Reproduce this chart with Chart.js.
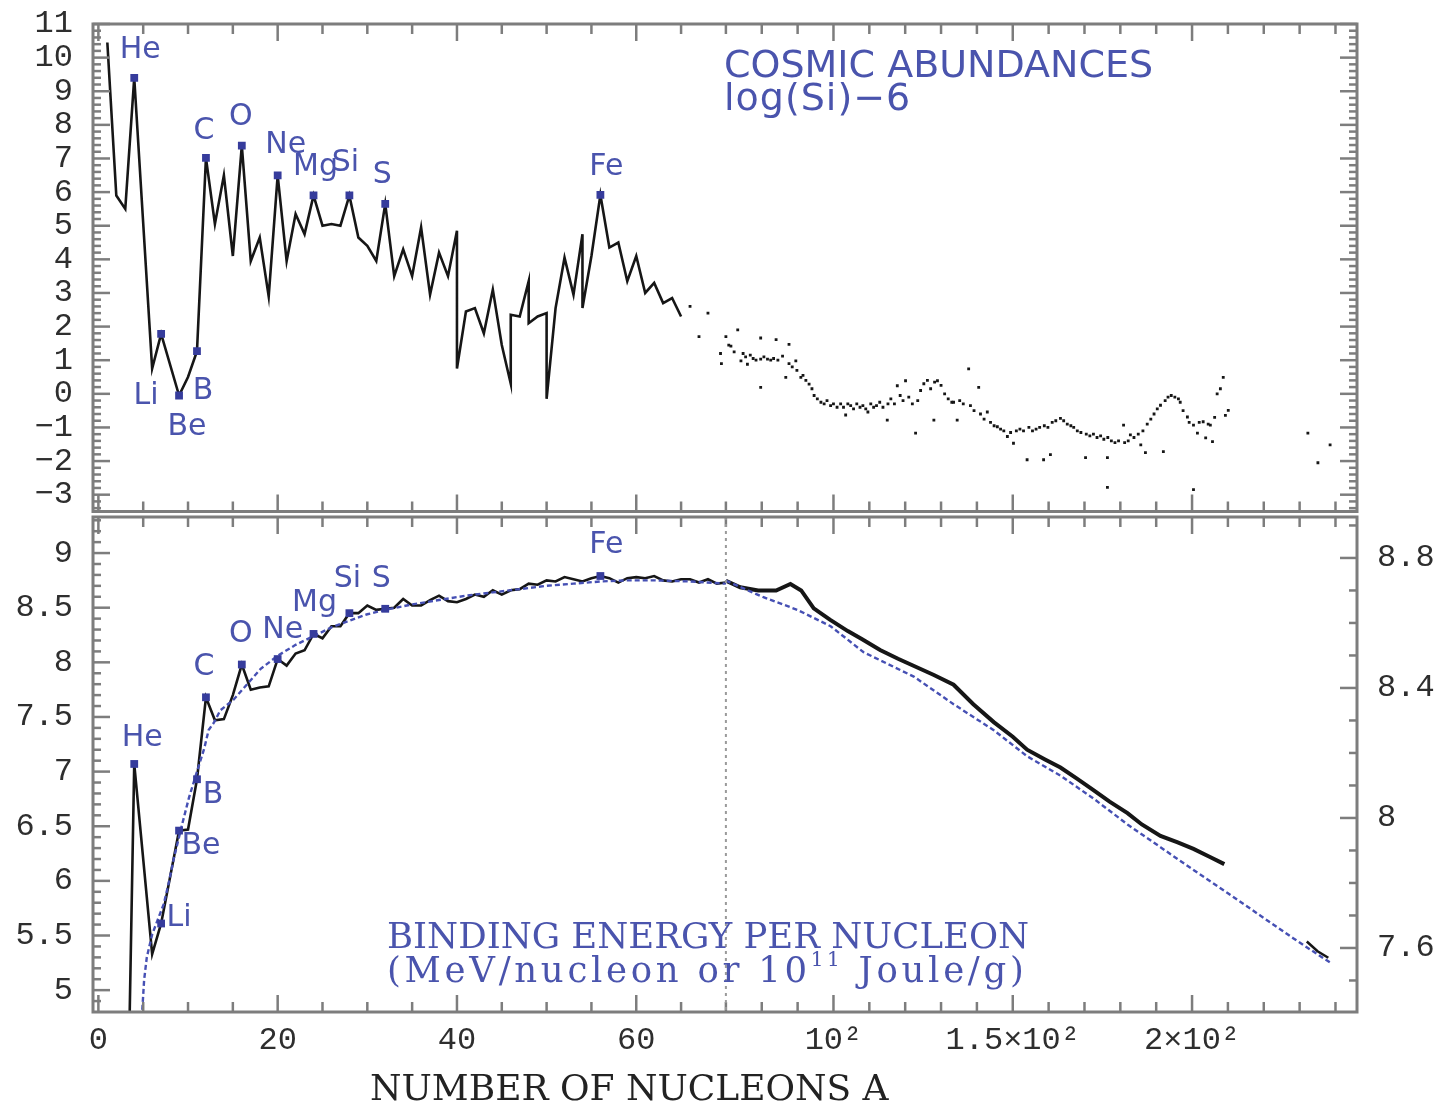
<!DOCTYPE html>
<html>
<head>
<meta charset="utf-8">
<title>Cosmic abundances and binding energy per nucleon</title>
<script src="https://cdn.jsdelivr.net/npm/chart.js@4.4.1/dist/chart.umd.min.js"></script>
<style>
  html, body { margin: 0; padding: 0; background: #fff; }
  #wrap { position: relative; width: 1440px; height: 1106px; overflow: hidden; }
  #abundCanvas { position: absolute; left: 0; top: 0; }
  #bindCanvas { position: absolute; left: 0; top: 500px; }
</style>
</head>
<body>
<div id="wrap">
  <canvas id="abundCanvas" width="1440" height="517"></canvas>
  <canvas id="bindCanvas" width="1440" height="606"></canvas>
</div>
<script>
// ---- abundances (log, Si = 10^6), connected part by mass number ----
const abundA = [1, 2, 3, 4, 6, 7, 9, 10, 11, 12, 13, 14, 15, 16, 17, 18, 19, 20, 21, 22,
  23, 24, 25, 26, 27, 28, 29, 30, 31, 32, 33, 34, 35, 36, 37, 38, 39, 40, 40, 41,
  42, 43, 44, 45, 46, 46, 47, 48, 48, 49, 50, 50, 51, 52, 53, 54, 54, 55, 56, 57,
  58, 59, 60, 61, 62, 63, 64, 65];
const abundLog = [10.45, 5.9, 5.5, 9.4, 0.75, 1.78, -0.05, 0.5, 1.27, 7.02, 5.05, 6.5, 4.1, 7.38, 3.95, 4.65, 2.9, 6.5, 3.95, 5.35,
  4.75, 5.9, 5.0, 5.05, 5.0, 5.9, 4.65, 4.4, 3.95, 5.65, 3.5, 4.3, 3.5, 4.95, 2.95, 4.2, 3.5, 4.85, 0.75, 2.45,
  2.55, 1.8, 3.1, 1.45, 0.3, 2.35, 2.3, 3.35, 2.1, 2.3, 2.4, -0.15, 2.55, 4.05, 2.95, 4.75, 2.55, 4.1, 5.92, 4.35,
  4.5, 3.35, 4.1, 3.0, 3.3, 2.7, 2.85, 2.3];

// heavier isotopes, plotted as separate dots
const dotA = [66, 67, 68, 69.4, 69.5, 70, 70.8, 71.4, 72.3, 73.3, 74.2, 74.8, 75.5, 76, 76.8, 77.6, 78.4, 79.7, 79.7, 79.7,
  80.6, 81.6, 82.5, 83.3, 84, 84.5, 85.8, 86.7, 87.6, 87.6, 88.5, 89.5, 89.8, 90.9, 91.5, 92.3, 93.2, 94, 94.6, 95.5,
  96.5, 97.4, 98.2, 99.2, 100, 101, 102, 102.8, 103.4, 104, 104.8, 105.6, 106.5, 107.4, 108.2, 109, 109.6, 110.4, 111.2, 112,
  112.9, 113.8, 115, 115.2, 116, 117, 117.8, 118.6, 119.4, 120.1, 121, 122, 122.9, 123.5, 124.3, 125.2, 126.2, 127.1, 128, 128.2,
  129, 130, 131, 132, 133, 133.5, 134.5, 135.2, 136.2, 137.7, 138.2, 139.2, 140.5, 141, 142, 142.9, 143.8, 144.8, 145.7, 146.6,
  147.5, 148.5, 149.4, 150.2, 151, 152, 153, 154, 154.5, 155.5, 156.5, 157.5, 158.6, 158.8, 159.8, 160.5, 161, 162, 163.3, 164.2,
  165.2, 166.2, 167, 168, 169, 170.3, 170.5, 171.5, 172.5, 173.5, 174.5, 175.4, 176.4, 176.4, 176.5, 177.5, 178.5, 179.5, 180.9, 181.2,
  182.2, 182.8, 183.8, 185, 185.7, 186.3, 187, 187.5, 188.5, 189.4, 190.3, 191.2, 192, 192.5, 193.3, 194.2, 195.2, 196.2, 196.7, 197.5,
  198.7, 199.2, 200.4, 200.4, 201.5, 202, 203.1, 203.8, 204.5, 205.1, 205.7, 206.3, 207, 207.9, 208.7, 209.3, 210.1, 232.3, 235.1, 238.5];
const dotLog = [2.6, 1.7, 2.4, 1.2, 0.9, 1.7, 1.45, 1.42, 1.25, 1.9, 0.98, 1.2, 1.1, 0.88, 1.15, 1.05, 1.0, 1.66, 1.03, 0.19,
  1.1, 1.03, 1.0, 1.05, 1.61, 1.0, 1.12, 0.49, 1.47, 0.9, 0.8, 0.98, 0.7, 0.49, 0.55, 0.4, 0.29, 0.15, -0.05, -0.15,
  -0.25, -0.3, -0.2, -0.35, -0.3, -0.4, -0.3, -0.4, -0.63, -0.3, -0.35, -0.45, -0.3, -0.4, -0.35, -0.45, -0.54, -0.3, -0.4, -0.35,
  -0.25, -0.4, -0.78, -0.3, -0.15, -0.3, 0.24, -0.05, -0.2, 0.39, -0.1, -0.3, -1.17, -0.2, 0.1, 0.3, 0.4, 0.15, -0.78, 0.35,
  0.39, 0.25, 0.0, -0.15, -0.25, -0.25, -0.78, -0.2, -0.3, 0.74, -0.35, -0.5, 0.19, -0.6, -0.75, -0.54, -0.85, -0.95, -0.98, -1.05,
  -1.1, -1.27, -1.15, -1.47, -1.1, -1.05, -1.1, -1.96, -1.0, -1.1, -1.05, -1.0, -1.96, -0.95, -1.0, -1.81, -0.85, -0.8, -0.73, -0.8,
  -0.9, -0.95, -1.0, -1.1, -1.15, -1.9, -1.2, -1.25, -1.2, -1.3, -1.25, -1.35, -1.9, -2.78, -1.3, -1.4, -1.45, -1.4, -0.93, -1.45,
  -1.4, -1.22, -1.3, -1.2, -1.52, -1.1, -1.75, -0.9, -0.75, -0.6, -0.45, -0.34, -1.72, -0.2, -0.1, -0.05, -0.1, -0.15, -0.25, -0.5,
  -0.69, -0.85, -0.93, -2.85, -1.17, -0.85, -0.83, -1.31, -0.9, -0.93, -1.42, -0.7, 0.0, 0.15, 0.49, -0.64, -0.49, -1.17, -2.05, -1.52];

// ---- binding energy per nucleon (MeV) ----
const bindA = [3, 4, 6, 7, 9, 10, 11, 12, 13, 14, 15, 16, 17, 18, 19, 20, 21, 22, 23, 24,
  25, 26, 27, 28, 29, 30, 31, 32, 33, 34, 35, 36, 37, 38, 39, 40, 41, 42, 43, 44,
  45, 46, 47, 48, 49, 50, 51, 52, 53, 54, 55, 56, 57, 58, 59, 60, 61, 62, 63, 64,
  65, 66, 67, 68, 69, 70];
const bindE = [2.57, 7.07, 5.33, 5.61, 6.46, 6.47, 6.93, 7.68, 7.47, 7.48, 7.70, 7.98, 7.75, 7.77, 7.78, 8.03, 7.97, 8.08, 8.11, 8.26,
  8.22, 8.33, 8.33, 8.45, 8.45, 8.52, 8.48, 8.49, 8.50, 8.58, 8.52, 8.52, 8.57, 8.61, 8.56, 8.55, 8.58, 8.62, 8.60, 8.66,
  8.62, 8.66, 8.67, 8.72, 8.71, 8.75, 8.74, 8.78, 8.76, 8.74, 8.77, 8.79, 8.77, 8.73, 8.77, 8.78, 8.77, 8.79, 8.75, 8.74,
  8.76, 8.76, 8.73, 8.76, 8.72, 8.73];
// heavy side, read against the right-hand axis
const bindHeavyA = [70, 74, 79, 84, 88, 91, 94.5, 99, 104, 108, 113, 118, 122, 128, 133.5, 139, 144.7, 150, 154, 159,
  163.3, 168, 172.5, 177, 182, 186, 191.2, 196, 200.4, 205, 209];
const bindHeavyE = [8.73, 8.71, 8.70, 8.70, 8.72, 8.70, 8.645, 8.61, 8.575, 8.55, 8.517, 8.49, 8.47, 8.44, 8.41, 8.35, 8.295, 8.25, 8.21, 8.18,
  8.155, 8.12, 8.086, 8.05, 8.015, 7.98, 7.945, 7.925, 7.905, 7.88, 7.858];
const bindActA = [232, 235, 238];
const bindActE = [7.62, 7.59, 7.57];

// smooth mass-formula curve
const fitA = [4.9, 5.1, 5.4, 6.0, 7.3, 7.9, 8.4, 9.35, 10.1, 11.0, 11.8, 12.3, 12.9, 13.6, 15.1, 16.6, 18.1, 20, 22, 24,
  26, 28, 30, 32, 35, 38, 41, 44, 47, 50, 53, 56, 59, 62, 66, 70];
const fitE = [4.82, 5.09, 5.3, 5.51, 5.79, 6.0, 6.2, 6.52, 6.76, 7.0, 7.21, 7.38, 7.45, 7.56, 7.66, 7.8, 7.94, 8.06, 8.16, 8.24,
  8.32, 8.38, 8.44, 8.48, 8.53, 8.57, 8.61, 8.64, 8.67, 8.70, 8.72, 8.74, 8.75, 8.75, 8.74, 8.72];
const fitHeavyA = [70, 80.3, 90, 99.2, 108.4, 122.4, 133.5, 144.7, 154, 163.3, 172.5, 182, 191.2, 200.4, 209.8, 219, 228.2, 238.5];
const fitHeavyE = [8.73, 8.68, 8.64, 8.59, 8.51, 8.435, 8.35, 8.27, 8.19, 8.13, 8.06, 7.98, 7.91, 7.84, 7.77, 7.70, 7.63, 7.555];

// ---- marked elements ----
const elementNames = ['He', 'Li', 'Be', 'B', 'C', 'O', 'Ne', 'Mg', 'Si', 'S', 'Fe'];
const elementA = [4, 7, 9, 11, 12, 16, 20, 24, 28, 32, 56];

// ---- axis ticks ----
const massTicks = [0, 20, 40, 60, 100, 150, 200];
const massTickLabels = ['0', '20', '40', '60', '10²', '1.5×10²', '2×10²'];
const abundTicks = [11, 10, 9, 8, 7, 6, 5, 4, 3, 2, 1, 0, -1, -2, -3];
const bindTicksL = [9, 8.5, 8, 7.5, 7, 6.5, 6, 5.5, 5];
const bindTicksR = [8.8, 8.4, 8, 7.6];

const BLUE_TEXT = '#4a54ad';
const BLUE_MARK = '#363c9c';
const INK = '#161616';
const FRAME = '#7d7d7d';

// The mass axis is linear up to A = 70 and squeezed beyond it.
const BREAK_A = 70;
const SQUEEZE = 0.4;
function foldA(a) { return a <= BREAK_A ? a : BREAK_A + (a - BREAK_A) * SQUEEZE; }
function unfoldA(f) { return f <= BREAK_A ? f : BREAK_A + (f - BREAK_A) / SQUEEZE; }

class BrokenLinearScale extends Chart.LinearScale {
  getPixelForValue(value) {
    if (value === null || value === undefined) return NaN;
    const lo = foldA(this.min), hi = foldA(this.max);
    return this.getPixelForDecimal((foldA(value) - lo) / (hi - lo));
  }
  getValueForPixel(pixel) {
    const lo = foldA(this.min), hi = foldA(this.max);
    return unfoldA(lo + this.getDecimalForPixel(pixel) * (hi - lo));
  }
}
BrokenLinearScale.id = 'brokenLinear';
BrokenLinearScale.defaults = Chart.LinearScale.defaults;
Chart.register(BrokenLinearScale);

function pts(xs, ys) { return xs.map((x, i) => ({ x: x, y: ys[i] })); }
function lookup(xs, ys, a) { return ys[xs.indexOf(a)]; }
function steps(from, to, step, skip) {
  const out = [];
  for (let v = from; v <= to + 1e-9; v += step) {
    const r = Math.round(v * 100) / 100;
    if (!skip(r)) out.push(r);
  }
  return out;
}

const massMinor = steps(5, 70, 5, v => massTicks.includes(v))
  .concat(steps(80, 240, 10, v => massTicks.includes(v)));
const abundMinor = steps(-3.4, 10.8, 0.2, v => Math.abs(v - Math.round(v)) < 1e-6);
const bindMinorL = steps(4.9, 9.3, 0.1, v => Math.abs(v * 2 - Math.round(v * 2)) < 1e-6);
const bindMinorR = steps(7.5, 8.9, 0.1, v => bindTicksR.includes(v));

const tickFont = { family: '"Liberation Mono", monospace', size: 32 };

// keep the plot box fixed: no extra room reserved for end labels
function noEdgePadding(s) {
  s.paddingTop = 0;
  s.paddingBottom = 0;
  s.paddingLeft = 0;
  s.paddingRight = 0;
}

// Frame and inward tick marks on all four sides
const frameTicks = {
  id: 'frameTicks',
  afterDatasetsDraw(chart, args, opts) {
    const ctx = chart.ctx, area = chart.chartArea;
    const xs = chart.scales.x;
    ctx.save();
    ctx.strokeStyle = FRAME;
    ctx.lineWidth = 2.5;
    const mark = (scale, values, len, side) => values.forEach(v => {
      const p = scale.getPixelForValue(v);
      ctx.beginPath();
      if (side === 'left') { ctx.moveTo(area.left, p); ctx.lineTo(area.left + len, p); }
      if (side === 'right') { ctx.moveTo(area.right, p); ctx.lineTo(area.right - len, p); }
      if (side === 'top') { ctx.moveTo(p, area.top); ctx.lineTo(p, area.top + len); }
      if (side === 'bottom') { ctx.moveTo(p, area.bottom); ctx.lineTo(p, area.bottom - len); }
      ctx.stroke();
    });
    ['top', 'bottom'].forEach(side => {
      mark(xs, massTicks, 17, side);
      mark(xs, massMinor, 10, side);
    });
    opts.sides.forEach(s => {
      const sc = chart.scales[s.scale];
      mark(sc, s.major, 17, s.side);
      mark(sc, s.minor, 8, s.side);
    });
    if (opts.divider) {
      const x = xs.getPixelForValue(BREAK_A);
      ctx.strokeStyle = '#9a9a9a';
      ctx.lineWidth = 2;
      ctx.setLineDash([3, 4]);
      ctx.beginPath();
      ctx.moveTo(x, area.top);
      ctx.lineTo(x, area.bottom);
      ctx.stroke();
      ctx.setLineDash([]);
    }
    ctx.strokeStyle = FRAME;
    ctx.lineWidth = 3;
    ctx.strokeRect(area.left, area.top, area.right - area.left, area.bottom - area.top);
    ctx.restore();
  }
};

// Element names beside the blue markers
const elementLabels = {
  id: 'elementLabels',
  afterDatasetsDraw(chart, args, opts) {
    const ctx = chart.ctx;
    const xs = chart.scales.x, ys = chart.scales[opts.yAxis];
    ctx.save();
    ctx.font = '30px "DejaVu Sans"';
    ctx.fillStyle = BLUE_TEXT;
    ctx.textAlign = 'center';
    ctx.textBaseline = 'middle';
    elementNames.forEach((name, i) => {
      const off = opts.offsets[i];
      ctx.fillText(name, xs.getPixelForValue(elementA[i]) + off[0], ys.getPixelForValue(opts.values[i]) + off[1]);
    });
    ctx.restore();
  }
};

// Free text: panel captions and the axis title
const captions = {
  id: 'captions',
  afterDraw(chart, args, opts) {
    const ctx = chart.ctx;
    ctx.save();
    ctx.textBaseline = 'alphabetic';
    ctx.textAlign = 'left';
    opts.lines.forEach(line => {
      let x = line.x;
      ctx.letterSpacing = (line.spacing || 0) + 'px';
      line.runs.forEach(run => {
        ctx.font = run.font;
        ctx.fillStyle = line.color;
        ctx.fillText(run.text, x, line.y + (run.rise || 0));
        x += ctx.measureText(run.text).width;
      });
    });
    ctx.restore();
  }
};

function massAxis(showLabels, height) {
  return {
    type: 'brokenLinear',
    min: -0.6,
    max: 246,
    display: showLabels,
    grid: { display: false, drawTicks: false },
    border: { display: false },
    afterBuildTicks: s => { s.ticks = massTicks.map(v => ({ value: v })); },
    afterFit: s => { noEdgePadding(s); s.height = height; },
    ticks: {
      autoSkip: false,
      maxRotation: 0,
      padding: 9,
      color: '#2e2e2e',
      font: tickFont,
      callback: (v, i) => massTickLabels[i]
    }
  };
}

function valueAxis(pos, min, max, tickList, width, showLabels, fmt) {
  return {
    type: 'linear',
    position: pos,
    min: min,
    max: max,
    grid: { display: false, drawTicks: false },
    border: { display: false },
    afterBuildTicks: s => { s.ticks = tickList.map(v => ({ value: v })); },
    afterFit: s => { noEdgePadding(s); s.width = width; },
    ticks: {
      display: showLabels,
      autoSkip: false,
      padding: 20,
      color: '#2e2e2e',
      font: tickFont,
      callback: fmt
    }
  };
}

const minusFmt = v => (v < 0 ? '\u2212' + Math.abs(v) : String(v));
const plainFmt = v => String(v);

const abundMarks = elementA.map(a => lookup(abundA, abundLog, a));
const bindMarks = elementA.map(a => lookup(bindA, bindE, a));

new Chart(document.getElementById('abundCanvas'), {
  type: 'line',
  data: {
    datasets: [
      {
        data: pts(elementA, abundMarks),
        showLine: false,
        pointStyle: 'rect',
        pointRadius: 5.5,
        backgroundColor: BLUE_MARK,
        borderColor: BLUE_MARK,
        borderWidth: 0,
        order: 0
      },
      {
        data: pts(abundA, abundLog),
        borderColor: INK,
        borderWidth: 2.6,
        pointRadius: 0,
        tension: 0,
        order: 1
      },
      {
        data: pts(dotA, dotLog),
        showLine: false,
        pointStyle: 'rect',
        pointRadius: 2,
        backgroundColor: INK,
        borderWidth: 0,
        order: 1
      }
    ]
  },
  options: {
    responsive: false,
    animation: false,
    events: [],
    layout: { padding: { top: 24, bottom: 0, left: 0, right: 0 } },
    plugins: {
      legend: { display: false },
      tooltip: { enabled: false },
      frameTicks: {
        sides: [
          { scale: 'y', side: 'left', major: abundTicks, minor: abundMinor },
          { scale: 'y', side: 'right', major: abundTicks, minor: abundMinor }
        ]
      },
      elementLabels: {
        yAxis: 'y',
        values: abundMarks,
        offsets: [[6, -28], [-15, 62], [8, 32], [6, 40], [-2, -27], [-1, -29], [8, -30], [2, -28], [-4, -32], [-3, -29], [6, -28]]
      },
      captions: {
        lines: [
          { x: 724, y: 77, color: BLUE_TEXT, runs: [{ text: 'COSMIC ABUNDANCES', font: '38px "DejaVu Sans"' }] },
          { x: 724, y: 110, color: BLUE_TEXT, spacing: 1, runs: [{ text: 'log(Si)\u22126', font: '38px "DejaVu Sans"' }] }
        ]
      }
    },
    scales: {
      x: massAxis(false, 0),
      y: valueAxis('left', -3.5, 11, abundTicks, 93, true, minusFmt),
      yR: valueAxis('right', -3.5, 11, abundTicks, 83, false, plainFmt)
    }
  },
  plugins: [frameTicks, elementLabels, captions]
});

new Chart(document.getElementById('bindCanvas'), {
  type: 'line',
  data: {
    datasets: [
      {
        data: pts(elementA, bindMarks),
        yAxisID: 'y',
        showLine: false,
        pointStyle: 'rect',
        pointRadius: 5.5,
        backgroundColor: BLUE_MARK,
        borderWidth: 0,
        order: 0
      },
      {
        data: pts(fitA, fitE),
        yAxisID: 'y',
        borderColor: '#4650b4',
        borderWidth: 2.4,
        borderDash: [5, 3],
        pointRadius: 0,
        order: 1
      },
      {
        data: pts(fitHeavyA, fitHeavyE),
        yAxisID: 'yR',
        borderColor: '#4650b4',
        borderWidth: 2.4,
        borderDash: [5, 3],
        pointRadius: 0,
        order: 1
      },
      {
        data: pts(bindA, bindE),
        yAxisID: 'y',
        borderColor: INK,
        borderWidth: 2.6,
        pointRadius: 0,
        order: 2
      },
      {
        data: pts(bindHeavyA, bindHeavyE),
        yAxisID: 'yR',
        borderColor: INK,
        borderWidth: 4,
        pointRadius: 0,
        order: 2
      },
      {
        data: pts(bindActA, bindActE),
        yAxisID: 'yR',
        borderColor: INK,
        borderWidth: 2.5,
        pointRadius: 0,
        order: 2
      }
    ]
  },
  options: {
    responsive: false,
    animation: false,
    events: [],
    layout: { padding: { top: 17, bottom: 0, left: 0, right: 0 } },
    plugins: {
      legend: { display: false },
      tooltip: { enabled: false },
      frameTicks: {
        divider: true,
        sides: [
          { scale: 'y', side: 'left', major: bindTicksL, minor: bindMinorL },
          { scale: 'yR', side: 'right', major: bindTicksR, minor: bindMinorR }
        ]
      },
      elementLabels: {
        yAxis: 'y',
        values: bindMarks,
        offsets: [[8, -26], [18, -5], [22, 16], [16, 16], [-2, -30], [-1, -30], [5, -29], [1, -31], [-2, -34], [-4, -30], [6, -31]]
      },
      captions: {
        lines: [
          { x: 387, y: 448, color: BLUE_TEXT, runs: [{ text: 'BINDING ENERGY PER NUCLEON', font: '35.5px "DejaVu Serif"' }] },
          {
            x: 387, y: 482, color: BLUE_TEXT, spacing: 3.7,
            runs: [
              { text: '(MeV/nucleon or 10', font: '35.5px "DejaVu Serif"' },
              { text: '11', font: '20px "DejaVu Serif"', rise: -16 },
              { text: ' Joule/g)', font: '35.5px "DejaVu Serif"' }
            ]
          },
          { x: 370, y: 600, color: '#222', runs: [{ text: 'NUMBER OF NUCLEONS A', font: '36px "DejaVu Serif"' }] }
        ]
      }
    },
    scales: {
      x: massAxis(true, 94),
      y: valueAxis('left', 4.8, 9.33, bindTicksL, 93, true, plainFmt),
      yR: valueAxis('right', 7.403, 8.926, bindTicksR, 83, true, plainFmt)
    }
  },
  plugins: [frameTicks, elementLabels, captions]
});
</script>
</body>
</html>
